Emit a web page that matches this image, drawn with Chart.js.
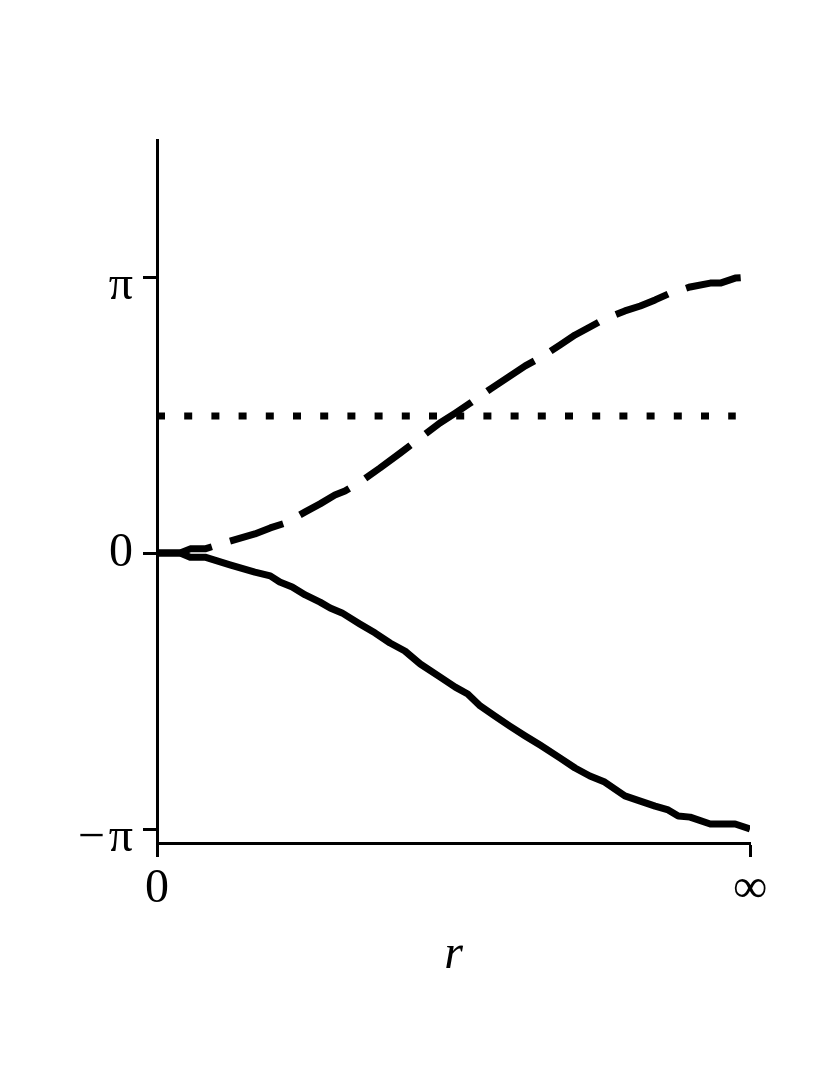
<!DOCTYPE html>
<html>
<head>
<meta charset="utf-8">
<script src="https://cdn.jsdelivr.net/npm/chart.js@4.4.1/dist/chart.umd.min.js"></script>
<style>
  html, body { margin: 0; padding: 0; background: #fff; }
  #wrap { width: 830px; height: 1075px; }
</style>
</head>
<body>
<div id="wrap"><canvas id="phaseChart" width="830" height="1075"></canvas></div>
<script>
// x runs from 0 (r = 0) to 100 (r = infinity); y is in units of pi
const rSolid = [0, 3.9, 5.6, 8.1, 12.3, 16.5, 19.1, 20.7, 22.8, 25.0, 27.5, 29.2, 31.2, 34.2, 36.8, 39.3, 41.8, 44.4, 47.7, 50.3, 52.4, 54.5, 57.0, 59.5, 62.1, 64.6, 68.0, 70.5, 73.0, 75.5, 78.9, 81.5, 84.0, 86.2, 87.9, 89.9, 93.3, 97.5, 100];
const phaseSolid = [0, 0, -0.015, -0.015, -0.043, -0.069, -0.083, -0.105, -0.123, -0.152, -0.178, -0.199, -0.217, -0.257, -0.290, -0.326, -0.355, -0.402, -0.449, -0.486, -0.511, -0.554, -0.591, -0.627, -0.663, -0.696, -0.743, -0.779, -0.808, -0.830, -0.880, -0.899, -0.917, -0.931, -0.953, -0.957, -0.982, -0.982, -1.0];

const rDashed = [0, 3.9, 5.6, 8.1, 12.3, 16.5, 19.1, 21.7, 25.0, 27.5, 30.0, 31.7, 34.2, 37.6, 41.0, 44.4, 47.7, 50.3, 52.8, 56.2, 59.5, 62.1, 64.6, 68.0, 70.5, 73.0, 75.5, 78.9, 81.5, 84.0, 86.2, 89.9, 93.3, 95.0, 97.5, 100];
const phaseDashed = [0, 0, 0.015, 0.015, 0.043, 0.069, 0.091, 0.109, 0.149, 0.178, 0.210, 0.225, 0.257, 0.308, 0.362, 0.417, 0.471, 0.507, 0.543, 0.594, 0.641, 0.678, 0.707, 0.754, 0.790, 0.819, 0.848, 0.877, 0.895, 0.917, 0.938, 0.964, 0.978, 0.978, 0.996, 1.0];

const rDotted = [0, 97.6];
const phaseDotted = [0.496, 0.496];

const yTickValues = [-1, 0, 1];
const yTickLabels = ["\u2212\u200Aπ", "0", "π"];
const xTickValues = [0, 100];
const xTickLabels = ["0", "∞"];

const FONT = "'Liberation Serif', 'Times New Roman', serif";

function toPoints(xs, ys) {
    return xs.map((x, i) => ({ x, y: ys[i] }));
}

// the pi labels sit a little below their tick (baseline alignment in the original)
function yLabel(value) {
    const label = yTickLabels[yTickValues.indexOf(value)];
    return value === 0 ? label : ["", label];
}

function buildChart() {
    const canvas = document.getElementById("phaseChart");

    const axisCommon = {
        type: "linear",
        grid: {
            drawOnChartArea: false,
            drawTicks: true,
            tickLength: 14,
            tickWidth: 3,
            tickColor: "#000",
        },
        border: { display: true, color: "#000", width: 3 },
    };

    new Chart(canvas, {
        type: "line",
        data: {
            datasets: [
                {
                    data: toPoints(rSolid, phaseSolid),
                    borderColor: "#000",
                    borderWidth: 7,
                    borderJoinStyle: "round",
                    pointRadius: 0,
                    tension: 0,
                },
                {
                    data: toPoints(rDashed, phaseDashed),
                    borderColor: "#000",
                    borderWidth: 7,
                    borderDash: [56, 19],
                    borderCapStyle: "butt",
                    borderJoinStyle: "round",
                    pointRadius: 0,
                    tension: 0,
                },
                {
                    data: toPoints(rDotted, phaseDotted),
                    borderColor: "#000",
                    borderWidth: 7,
                    borderDash: [8, 19.2],
                    borderCapStyle: "butt",
                    pointRadius: 0,
                    tension: 0,
                },
            ],
        },
        options: {
            responsive: false,
            animation: false,
            events: [],
            layout: { padding: { top: 140, right: 80, left: 0, bottom: 0 } },
            plugins: {
                legend: { display: false },
                tooltip: { enabled: false },
            },
            scales: {
                x: {
                    ...axisCommon,
                    position: "bottom",
                    min: 0,
                    max: 100,
                    afterBuildTicks: (scale) => {
                        scale.ticks = xTickValues.map((v) => ({ value: v }));
                    },
                    afterFit: (scale) => {
                        scale.height = 232;
                    },
                    ticks: {
                        color: "#000",
                        font: { family: FONT, size: 48 },
                        padding: 4,
                        maxRotation: 0,
                        autoSkip: false,
                        callback: (value) => xTickLabels[xTickValues.indexOf(value)],
                    },
                    title: {
                        display: true,
                        text: "r",
                        color: "#000",
                        font: { family: FONT, size: 48, style: "italic" },
                        padding: { top: 0, bottom: 91 },
                    },
                },
                y: {
                    ...axisCommon,
                    position: "left",
                    min: -1.0507,
                    max: 1.4964,
                    afterBuildTicks: (scale) => {
                        scale.ticks = yTickValues.map((v) => ({ value: v }));
                    },
                    afterFit: (scale) => {
                        scale.width = 157;
                    },
                    ticks: {
                        color: "#000",
                        font: (ctx) => ({
                            family: FONT,
                            size: 48,
                            lineHeight: ctx.tick && ctx.tick.value !== 0 ? "18px" : 1.2,
                        }),
                        padding: 10,
                        autoSkip: false,
                        callback: yLabel,
                    },
                },
            },
        },
    });
}

buildChart();
</script>
</body>
</html>
